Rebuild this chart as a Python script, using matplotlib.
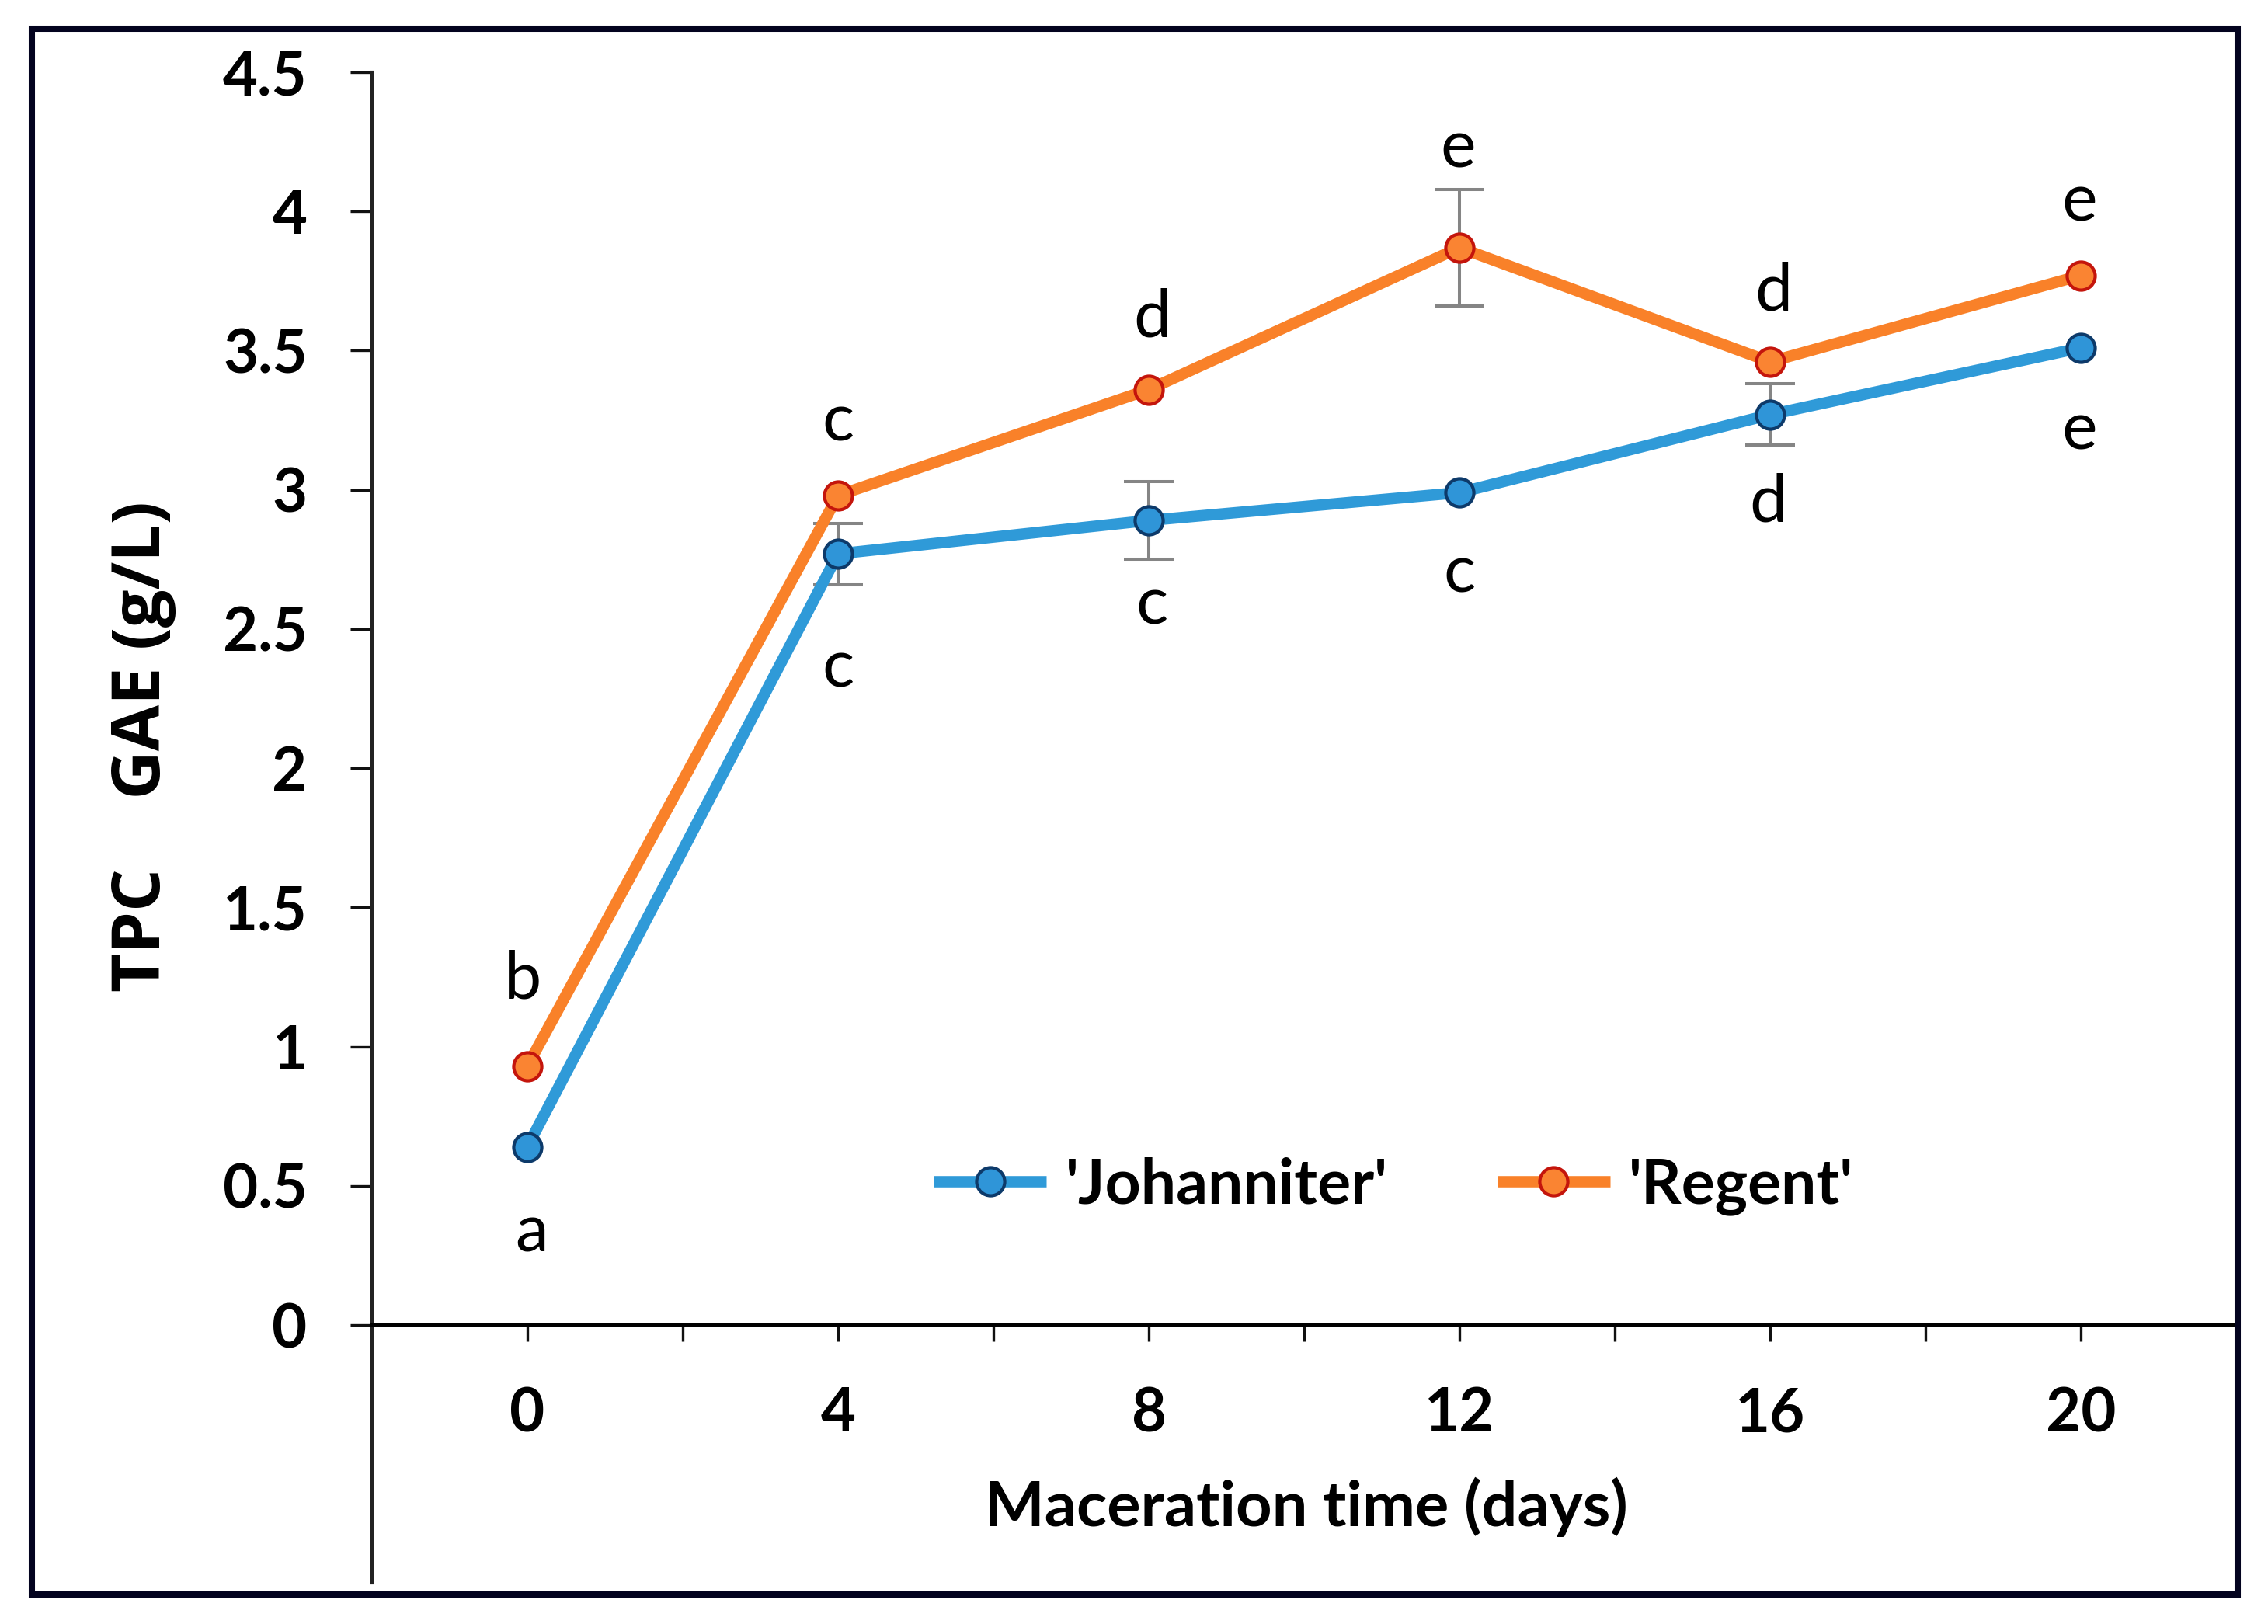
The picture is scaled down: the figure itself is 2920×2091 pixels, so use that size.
import matplotlib
matplotlib.use("Agg")
import matplotlib.pyplot as plt
from matplotlib.patches import Rectangle
import numpy as np

# ---- data ----
days = [0, 4, 8, 12, 16, 20]
johanniter = [0.64, 2.77, 2.89, 2.99, 3.27, 3.51]
regent = [0.93, 2.98, 3.36, 3.87, 3.46, 3.77]
johanniter_err = [0.0, 0.11, 0.14, 0.0, 0.11, 0.0]
regent_err = [0.0, 0.0, 0.0, 0.21, 0.0, 0.0]
johanniter_letters = ["a", "c", "c", "c", "d", "e"]
regent_letters = ["b", "c", "d", "e", "d", "e"]
series_names = ["'Johanniter'", "'Regent'"]
y_ticks = [0, 0.5, 1, 1.5, 2, 2.5, 3, 3.5, 4, 4.5]
y_tick_labels = ["0", "0.5", "1", "1.5", "2", "2.5", "3", "3.5", "4", "4.5"]
x_ticks = [0, 4, 8, 12, 16, 20]
x_minor_ticks = [2, 6, 10, 14, 18]
x_label = "Maceration time (days)"
y_label = "TPC    GAE (g/L)"

# ---- style ----
BLUE_LINE = "#2f9ad8"
BLUE_FILL = "#2f95d8"
BLUE_EDGE = "#0d3a6a"
ORANGE_LINE = "#f98129"
ORANGE_FILL = "#fa8432"
ORANGE_EDGE = "#c4150c"
ERR_COLOR = "#858585"
FRAME = "#03031f"
FONT = "Lato"

# label offsets (points) relative to each point
j_offsets = [(4, -80), (0, -106), (3, -79), (0, -75), (-2, -82), (-1, -77)]
r_offsets = [(-4, 80), (0, 68), (3, 66), (-1, 92), (3, 65), (-1, 68)]

fig = plt.figure(figsize=(29.2, 20.91), dpi=100)
ax = fig.add_axes([479 / 2920, 1 - 1706 / 2091, 2400 / 2920, 1613 / 2091])

lw = 10.5
ms = 26
mew = 3.0

ax.plot(days, johanniter, color=BLUE_LINE, lw=lw, marker="o", ms=ms,
        mfc=BLUE_FILL, mec=BLUE_EDGE, mew=mew, label=series_names[0],
        zorder=4, solid_capstyle="butt")
ax.plot(days, regent, color=ORANGE_LINE, lw=lw, marker="o", ms=ms,
        mfc=ORANGE_FILL, mec=ORANGE_EDGE, mew=mew, label=series_names[1],
        zorder=4, solid_capstyle="butt")

for vals, errs in ((johanniter, johanniter_err), (regent, regent_err)):
    xs = [d for d, e in zip(days, errs) if e > 0]
    ys = [v for v, e in zip(vals, errs) if e > 0]
    es = [e for e in errs if e > 0]
    ax.errorbar(xs, ys, yerr=es, fmt="none", ecolor=ERR_COLOR, elinewidth=2.9,
                capsize=23, capthick=2.9, zorder=3)

for d, v, let, off in zip(days, johanniter, johanniter_letters, j_offsets):
    ax.annotate(let, xy=(d, v), xytext=off, textcoords="offset points",
                ha="center", va="center", fontsize=62, family=FONT)
for d, v, let, off in zip(days, regent, regent_letters, r_offsets):
    ax.annotate(let, xy=(d, v), xytext=off, textcoords="offset points",
                ha="center", va="center", fontsize=62, family=FONT)

ax.set_xlim(-2, 22)
ax.set_ylim(0, 4.5)

ax.set_yticks(y_ticks)
ax.set_yticklabels(y_tick_labels)
ax.set_xticks(x_ticks)
ax.set_xticks(x_minor_ticks, minor=True)

for lab in ax.get_yticklabels() + ax.get_xticklabels():
    lab.set_fontfamily(FONT)
    lab.set_fontweight("bold")
    lab.set_fontsize(56)

ax.tick_params(axis="y", direction="out", length=20, width=2.4, pad=40, color="#111111")
ax.tick_params(axis="x", which="both", direction="out", length=15, width=2.4, pad=42, color="#111111")

for s in ("top", "right", "left"):
    ax.spines[s].set_visible(False)
ax.spines["bottom"].set_linewidth(3.0)
ax.spines["bottom"].set_color("#000000")
ax.axvline(-2, ymin=-0.206, ymax=1, color="#222222", lw=3.0, clip_on=False, zorder=2)

ax.set_xlabel(x_label, fontsize=58.5, fontweight="bold", family=FONT, va="center")
ax.xaxis.set_label_coords(0.501, -0.145)
ax.set_ylabel(y_label, fontsize=62, fontweight="bold", family="Open Sans", va="center")
ax.yaxis.set_label_coords(-0.1233, 0.462)

leg = ax.legend(loc="center", bbox_to_anchor=(0.548, 0.111), ncol=2, frameon=False,
                handlelength=1.8, handletextpad=0.3, columnspacing=1.75,
                prop={"family": FONT, "weight": "bold", "size": 58})

fig.patches.append(Rectangle((41 / 2920, 1 - 2053 / 2091), (2881 - 41) / 2920,
                             (2053 - 37) / 2091, transform=fig.transFigure,
                             fill=False, edgecolor=FRAME, lw=5.8))

fig.savefig("out.png", dpi=100)
